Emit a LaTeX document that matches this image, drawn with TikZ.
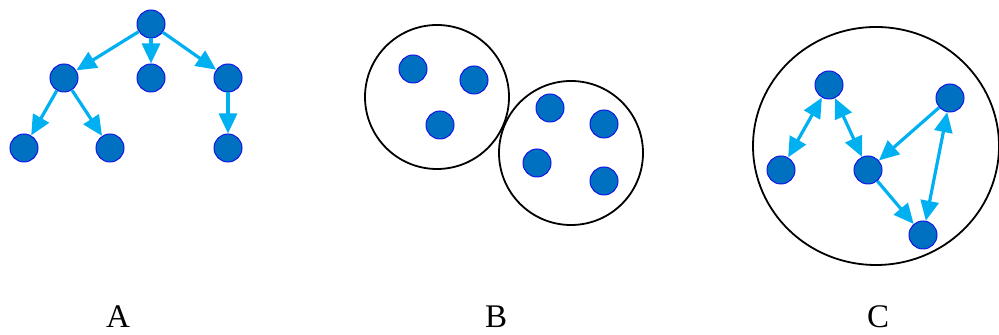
\documentclass[tikz,border=0pt]{standalone}
\usepackage{fontspec}
\setmainfont{Liberation Serif}
\usetikzlibrary{arrows.meta}

\definecolor{dotfill}{RGB}{0,112,192}
\definecolor{dotline}{RGB}{20,20,230}
\definecolor{linkcol}{RGB}{0,176,240}

\begin{document}
\begin{tikzpicture}[
  x=0.5pt, y=-0.5pt,
  font=\fontsize{16.5}{20}\selectfont,
  dot/.style={circle, fill=dotfill, draw=dotline, line width=0.5pt,
    minimum size=14pt, inner sep=0pt},
  link/.style={-{Triangle[length=10pt, width=9pt]}, line width=1.6pt,
    draw=linkcol},
  both/.style={link, {Triangle[length=10pt, width=9pt]}-{Triangle[length=10pt, width=9pt]}},
  group/.style={draw=black, line width=0.9pt},
  caption/.style={inner sep=0pt}
]
  \useasboundingbox (0,0) rectangle (999,335);

  % A: tree
  \node[dot] (root) at (151,24) {};
  \node[dot] (a1) at (64,78) {};
  \node[dot] (a2) at (151,78) {};
  \node[dot] (a3) at (228,78) {};
  \node[dot] (a11) at (24,148) {};
  \node[dot] (a12) at (110,148) {};
  \node[dot] (a31) at (228,148) {};

  \draw[link] (root) -- (a1);
  \draw[link] (root) -- (a2);
  \draw[link] (root) -- (a3);
  \draw[link] (a1) -- (a11);
  \draw[link] (a1) -- (a12);
  \draw[link] (a3) -- (a31);

  % B: two groups
  \node[group, circle, minimum size=72pt] (left) at (437,97) {};
  \node[group, circle, minimum size=72pt] (right) at (571,153) {};
  \node[dot] (b1) at (413,69) {};
  \node[dot] (b2) at (474,80) {};
  \node[dot] (b3) at (440,125) {};
  \node[dot] (b4) at (550,108) {};
  \node[dot] (b5) at (604,124) {};
  \node[dot] (b6) at (537,163) {};
  \node[dot] (b7) at (604,181) {};

  % C: network
  \begin{scope}
    \clip (0,0) rectangle (999,335);
    \draw[group] (876,146) ellipse [x radius=123, y radius=119];
  \end{scope}
  \node[dot] (c1) at (829,85) {};
  \node[dot] (c2) at (781,170) {};
  \node[dot] (c3) at (868,170) {};
  \node[dot] (c4) at (950,98) {};
  \node[dot] (c5) at (923,235) {};

  \draw[both] (c1) -- (c2);
  \draw[both] (c1) -- (c3);
  \draw[link] (c4) -- (c3);
  \draw[link] (c3) -- (c5);
  \draw[both] (c4) -- (c5);

  % labels
  \node[caption] (labA) at (118,317) {A};
  \node[caption] (labB) at (496,317) {B};
  \node[caption] (labC) at (878,317) {C};
\end{tikzpicture}
\end{document}
